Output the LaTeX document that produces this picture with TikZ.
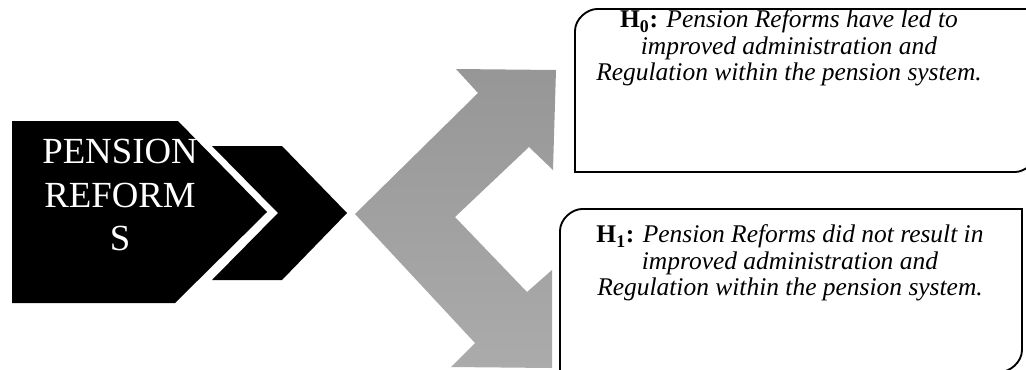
\documentclass[tikz,border=0pt]{standalone}
\usepackage{fontspec}
\setmainfont{Liberation Serif}
\tikzset{hyp box/.style={line width=1.4pt,black}}
\tikzset{hyp text/.style={align=center,inner sep=0pt,font=\fontsize{19.1}{19.7}\selectfont}}
\tikzset{grey arrow/.style={top color=black!41,bottom color=black!33,draw=none}}

\begin{document}
\begin{tikzpicture}[x=0.75pt,y=-0.75pt]
	\clip (0,0) rectangle (1026,369);
	% black pentagon and chevron
	\fill [black] (12,121) -- (178,121) -- (267,212) -- (175,303) -- (12,303) -- cycle;
	\fill [black] (212,146) -- (282,146) -- (347,213) -- (282,280) -- (212,280) -- (278,213) -- cycle;
	\node [text=white,align=center,inner sep=0pt,font=\fontsize{27.6}{32.6}\selectfont] (reforms) at (120,195) {PENSION\\REFORM\\S};

	% grey arrow splitting up and down
	\shade [grey arrow] (355,214) -- (478,93) -- (456,69) -- (556,70) -- (553,170) -- (529,147) -- (455,217) -- (527,292) -- (552,270) -- (552,368) -- (451,367) -- (475,343) -- cycle;

	% hypothesis boxes
	\draw [hyp box] (575,172) -- (575,31) .. controls (575,18.9) and (587.1,9) .. (597,9) -- (1037,9) -- (1037,150) .. controls (1037,162.1) and (1024.9,172) .. (1015,172) -- cycle;
	\draw [hyp box] (560,372) -- (560,231) .. controls (560,218.9) and (572.1,209) .. (582,209) -- (1022,209) -- (1022,350) .. controls (1022,362.1) and (1009.9,372) .. (1000,372) -- cycle;

	\node [hyp text] (hzero) at (789,48) {\textbf{H\textsubscript{0}:} \textit{Pension Reforms have led to}\\\textit{improved administration and}\\\textit{Regulation within the pension system.}};
	\node [hyp text] (hone) at (790,263) {\textbf{H\textsubscript{1}:} \textit{Pension Reforms did not result in}\\\textit{improved administration and}\\\textit{Regulation within the pension system.}};
\end{tikzpicture}
\end{document}
